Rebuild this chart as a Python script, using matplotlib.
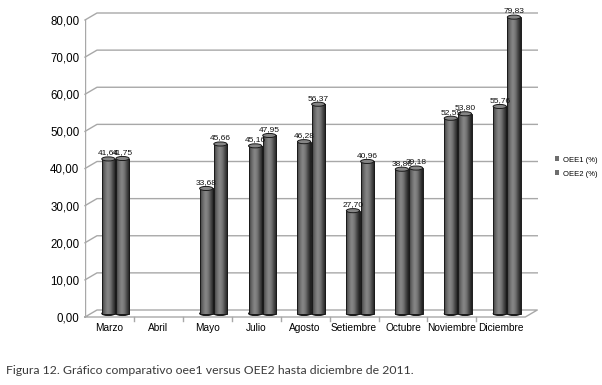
import numpy as np
import matplotlib
matplotlib.use("Agg")
import matplotlib.pyplot as plt
from matplotlib.colors import LinearSegmentedColormap
from matplotlib.patches import Ellipse, Rectangle, Patch

plt.rcParams['font.family'] = ['Liberation Sans', 'DejaVu Sans']

meses = ["Marzo", "Abril", "Mayo", "Julio", "Agosto", "Setiembre",
         "Octubre", "Noviembre", "Diciembre"]
oee1 = [41.64, None, 33.68, 45.16, 46.28, 27.70, 38.86, 52.59, 55.76]
oee2 = [41.75, None, 45.66, 47.95, 56.37, 40.96, 39.18, 53.80, 79.83]
series = [("OEE1 (%)", oee1), ("OEE2 (%)", oee2)]
yticks = [0, 10, 20, 30, 40, 50, 60, 70, 80]

# fake 3d depth (x in category units, y in value units)
DX, DY = 0.245, 1.885
bw = 0.27
n = len(meses)

fig = plt.figure(figsize=(6.02, 3.85), dpi=100)
ax = fig.add_axes([85 / 602, 68 / 385, 452.3 / 602, 304 / 385])
ax.set_xlim(-0.5, n - 0.5 + DX)
ax.set_ylim(0, 80 + DY)
for s in ax.spines.values():
    s.set_visible(False)

grid_c = "#a8a8a8"
# walls and gridlines
for v in yticks[1:]:
    ax.plot([-0.5, -0.5 + DX, n - 0.5 + DX], [v, v + DY, v + DY],
            color=grid_c, lw=1, zorder=1, clip_on=False)
ax.plot([-0.5, -0.5], [0, 80], color=grid_c, lw=1, zorder=1)
# floor
ax.plot([-0.5, n - 0.5, n - 0.5 + DX, -0.5 + DX, -0.5],
        [0, 0, DY, DY, 0], color=grid_c, lw=1, zorder=1, clip_on=False)
for i in range(n - 1):
    ax.plot([i + 0.5, i + 0.5], [0, -1.1], color=grid_c, lw=1, clip_on=False)

cmap = LinearSegmentedColormap.from_list(
    "cyl", ["#3c3c3c", "#6a6a6a", "#888888", "#767676", "#464646", "#1c1c1c"])
grad = np.linspace(0, 1, 64).reshape(1, -1)

for i in range(n):
    for k, (name, vals) in enumerate(series):
        v = vals[i]
        if v is None:
            continue
        cx = i + DX / 2 + (k - 0.5) * 0.29
        y0, y1 = DY / 2, v + DY / 2
        z = 3 + k
        ax.imshow(grad, extent=(cx - bw / 2, cx + bw / 2, y0, y1), cmap=cmap,
                  aspect="auto", interpolation="bicubic", zorder=z)
        ax.add_patch(Rectangle((cx - bw / 2, y0), bw, y1 - y0, fill=False,
                               ec="#1a1a1a", lw=0.7, zorder=z))
        ax.add_patch(Ellipse((cx, y0), bw, 1.1, fc="#555555", ec="#1a1a1a",
                             lw=0.7, zorder=z - 0.1))
        ax.add_patch(Ellipse((cx, y1), bw, 1.1, fc="#858585", ec="#1a1a1a",
                             lw=0.7, zorder=z + 0.1))
        ax.text(cx, y1 + 0.7, f"{v:.2f}".replace(".", ","), ha="center",
                va="bottom", fontsize=6, color="#111111", zorder=10)

ax.set_xlim(-0.5, n - 0.5 + DX)
ax.set_ylim(0, 80 + DY)
ax.set_xticks(range(n))
ax.set_xticklabels(meses, fontsize=7.3)
ax.set_yticks(yticks)
ax.set_yticklabels([f"{v:.2f}".replace(".", ",") for v in yticks], fontsize=8.3)
ax.tick_params(axis="x", length=0, pad=4)
ax.tick_params(axis="y", length=0, pad=4)

handles = [Patch(fc="#6e6e6e", ec="none") for _ in series]
fig.legend(handles, [s[0] for s in series], loc="center left",
           bbox_to_anchor=(548 / 602, 1 - 167 / 385), frameon=False,
           fontsize=5.5, handlelength=0.6, handleheight=0.6,
           handletextpad=0.4, labelspacing=0.9)

fig.text(6 / 602, 1 - 371 / 385,
         "Figura 12. Gráfico comparativo oee1 versus OEE2 hasta diciembre de 2011.",
         fontsize=8.8, family="Lato", color="#3a3a3a", va="center")

fig.savefig("out.png", dpi=100)
